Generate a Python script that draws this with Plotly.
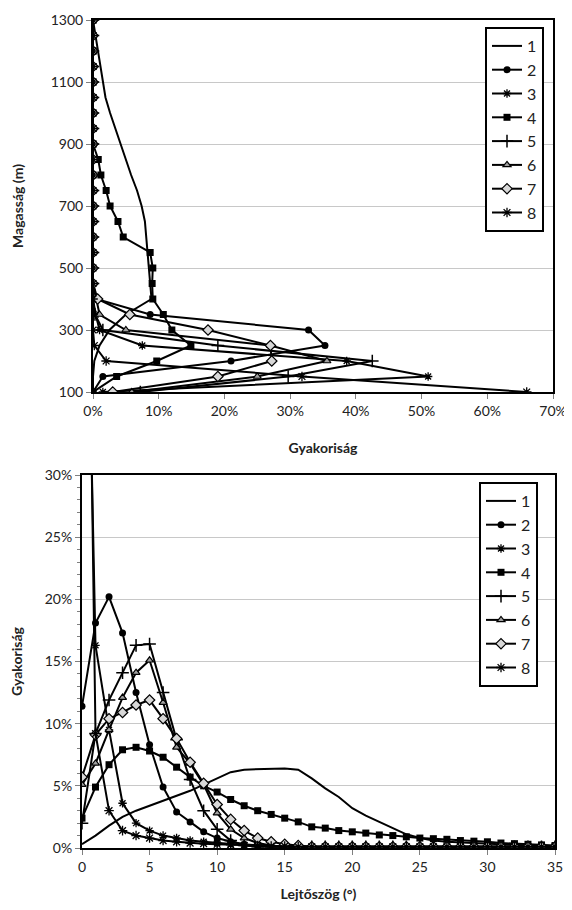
import plotly.graph_objects as go

# ---------------- data ----------------
heights = [100, 150, 200, 250, 300, 350, 400, 450, 500, 550, 600, 650, 700,
           750, 800, 850, 900, 950, 1000, 1050, 1100, 1150, 1200, 1250, 1300]
series_names = ["1", "2", "3", "4", "5", "6", "7", "8"]

top_1 = [0, 0, 0.2, 1.0, 2.5, 5.0, 8.9, 8.7, 8.6, 8.4, 8.2, 7.9, 7.4, 6.7, 5.8,
         5.0, 4.1, 3.3, 2.6, 1.9, 1.5, 1.2, 0.8, 0.3, 0]
top_2 = [0, 1.5, 21, 35.3, 32.8, 8.7, 0.5] + [0] * 18
top_3 = [1.5, 51, 38.6, 7.5, 1.0, 0.4] + [0] * 19
top_4 = [0, 3.6, 9.7, 14.9, 12, 10.7, 9.1, 9.0, 9.1, 8.7, 4.6, 3.8, 2.6, 2.0,
         1.2, 0.8] + [0] * 9
top_5 = [7.2, 29.7, 42.5, 19, 1.5, 0.3] + [0] * 19
top_6 = [5.9, 25, 35.6, 27, 5.0, 1.0, 0.5] + [0] * 18
top_7 = [3.0, 19, 27.2, 27, 17.5, 5.6, 0.7] + [0] * 18
top_8 = [66, 31.8, 2.0, 0.2] + [0] * 21

slopes = list(range(0, 36))
bot_1 = [0.3, 1.0, 1.8, 2.5, 3.0, 3.4, 3.8, 4.2, 4.6, 5.1, 5.6, 6.1, 6.3, 6.35,
         6.4, 6.4, 6.3, 5.6, 4.8, 4.1, 3.2, 2.6, 2.1, 1.6, 1.1, 0.8, 0.6, 0.5,
         0.45, 0.4, 0.35, 0.3, 0.25, 0.2, 0.2, 0.1]
bot_2 = [11.4, 18.1, 20.2, 17.3, 12.5, 8.3, 4.9, 2.9, 2.1, 1.3, 0.8, 0.5, 0.3,
         0.2, 0.1, 0.1] + [0.05] * 20
bot_3 = [68, 16.3, 9.5, 3.6, 2.0, 1.4, 1.0, 0.8, 0.6, 0.5, 0.4, 0.3, 0.25, 0.2,
         0.15, 0.1] + [0.1] * 20
bot_4 = [2.4, 4.9, 6.7, 7.9, 8.1, 7.8, 7.3, 6.5, 5.7, 5.0, 4.5, 3.9, 3.4, 3.0,
         2.7, 2.4, 2.1, 1.7, 1.6, 1.4, 1.3, 1.2, 1.05, 1.0, 0.9, 0.8, 0.75, 0.7,
         0.6, 0.55, 0.5, 0.4, 0.35, 0.3, 0.25, 0.2]
bot_5 = [2.0, 9.2, 11.9, 14.1, 16.3, 16.4, 12.5, 8.7, 5.5, 3.0, 1.5, 0.6, 0.2,
         0.1] + [0.1] * 22
bot_6 = [5.1, 6.8, 9.5, 12.1, 14.1, 15.1, 11.7, 8.1, 6.8, 5.1, 2.8, 1.5, 0.8,
         0.4, 0.2, 0.1] + [0.1] * 20
bot_7 = [5.7, 9.1, 10.4, 10.9, 11.5, 11.9, 10.4, 8.8, 6.9, 5.2, 3.5, 2.3, 1.4,
         0.8, 0.5, 0.3, 0.2] + [0.1] * 19
bot_8 = [86, 9.2, 3.0, 1.4, 1.0, 0.8, 0.6, 0.5, 0.4, 0.35, 0.3, 0.25, 0.2, 0.2,
         0.15, 0.15] + [0.1] * 20

top_series = [top_1, top_2, top_3, top_4, top_5, top_6, top_7, top_8]
bot_series = [bot_1, bot_2, bot_3, bot_4, bot_5, bot_6, bot_7, bot_8]

# ---------------- styles ----------------
FONT = "Lato, 'Open Sans', sans-serif"
markers = [
    None,
    dict(symbol="circle", size=7, color="black"),
    dict(symbol="asterisk-open", size=7, color="black", line=dict(width=1.3, color="black")),
    dict(symbol="square", size=7, color="black"),
    dict(symbol="cross-thin-open", size=9, color="black", line=dict(width=1.5, color="black")),
    dict(symbol="triangle-up", size=7, color="#a0a0a0", line=dict(width=1.2, color="black")),
    dict(symbol="diamond", size=8, color="#d8d8d8", line=dict(width=1.2, color="black")),
    dict(symbol="asterisk-open", size=8, color="black", line=dict(width=1.3, color="black")),
]

fig = go.Figure()

for i, name in enumerate(series_names):
    mk = markers[i]
    fig.add_trace(go.Scatter(
        x=top_series[i], y=heights, name=name,
        mode="lines" if mk is None else "lines+markers",
        line=dict(color="black", width=2),
        marker=mk, xaxis="x", yaxis="y", legend="legend",
    ))
for i, name in enumerate(series_names):
    mk = markers[i]
    fig.add_trace(go.Scatter(
        x=slopes, y=bot_series[i], name=name,
        mode="lines" if mk is None else "lines+markers",
        line=dict(color="black", width=2),
        marker=mk, xaxis="x2", yaxis="y2", legend="legend2",
    ))

# page body has an 8px margin; work in reference pixels shifted by 8
OFF = 8
W, H = 572 - 10, 910 - 2 * OFF


def dx(a, b):
    return [(a - OFF) / W, (b - OFF) / W]


def dy(top, bottom):
    return [1 - (bottom - OFF) / H, 1 - (top - OFF) / H]


axis_common = dict(
    showline=True, linecolor="black", linewidth=2, mirror=True,
    ticks="outside", ticklen=5, tickcolor="#808080",
    tickfont=dict(family=FONT, size=14, color="#222"),
    zeroline=False, automargin=False, ticklabeloverflow="allow",
)
fig.update_layout(
    width=W, height=H,
    margin=dict(l=0, r=0, t=0, b=0),
    paper_bgcolor="white", plot_bgcolor="white",
    font=dict(family=FONT, color="#222"),
    showlegend=True,
    xaxis=dict(domain=dx(93, 553), anchor="y", range=[0, 70], dtick=10,
               ticksuffix="%", showgrid=False,
               title=dict(text="<b>Gyakoriság</b>", font=dict(family=FONT, size=14), standoff=25),
               **axis_common),
    yaxis=dict(domain=dy(20, 392), anchor="x", range=[100, 1300],
               tickvals=[100, 300, 500, 700, 900, 1100, 1300],
               showgrid=True, gridcolor="#c8c8c8", gridwidth=1,
               title=dict(text="<b>Magasság (m)</b>", font=dict(family=FONT, size=14), standoff=24),
               **axis_common),
    xaxis2=dict(domain=dx(82, 555), anchor="y2", range=[0, 35], dtick=5,
                showgrid=False,
                title=dict(text="<b>Lejtőszög (°)</b>", font=dict(family=FONT, size=14), standoff=28),
                **axis_common),
    yaxis2=dict(domain=dy(475, 848), anchor="x2", range=[0, 30], dtick=5,
                ticksuffix="%", showgrid=True, gridcolor="#c8c8c8", gridwidth=1,
                minor=dict(dtick=1, ticks="outside", ticklen=3, tickcolor="#808080"),
                title=dict(text="<b>Gyakoriság</b>", font=dict(family=FONT, size=14), standoff=21),
                **axis_common),
    legend=dict(x=(485 - OFF) / W, y=1 - (27 - OFF) / H, xanchor="left", yanchor="top",
                bordercolor="black", borderwidth=2, bgcolor="white",
                font=dict(family=FONT, size=16, color="#222"),
                tracegroupgap=0, itemwidth=30),
    legend2=dict(x=(479 - OFF) / W, y=1 - (482 - OFF) / H, xanchor="left", yanchor="top",
                 bordercolor="black", borderwidth=2, bgcolor="white",
                 font=dict(family=FONT, size=16, color="#222"),
                 tracegroupgap=0, itemwidth=30),
)

fig.write_html("out.html")
